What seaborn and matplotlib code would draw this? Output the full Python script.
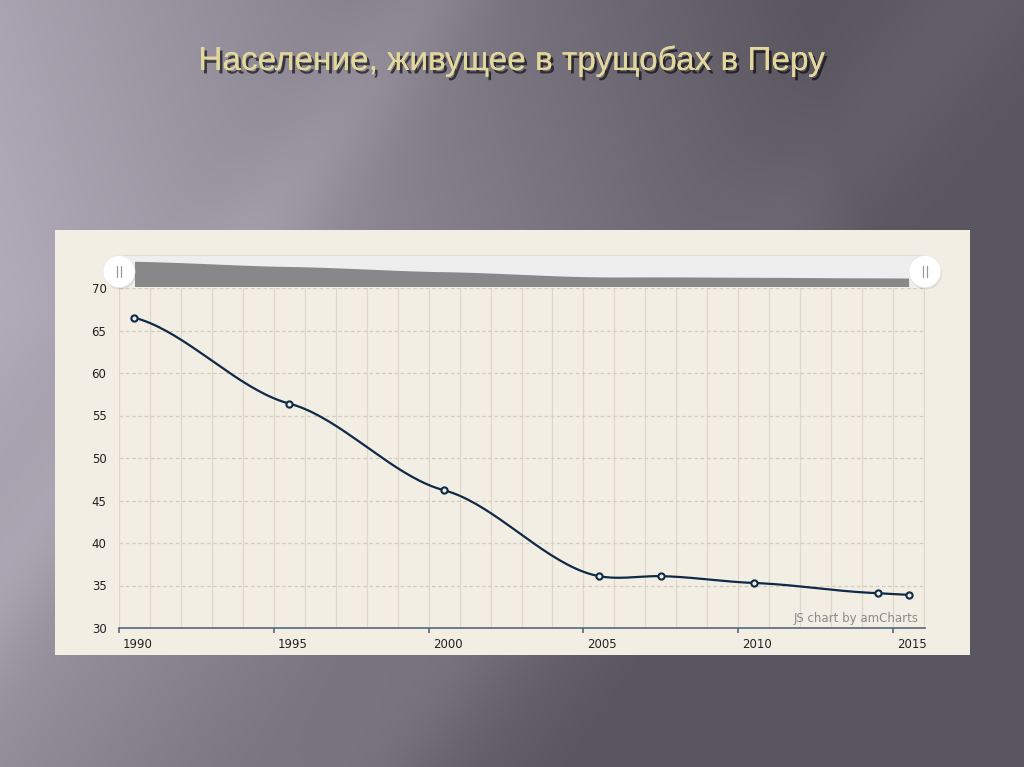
import numpy as np
import matplotlib
matplotlib.use("Agg")
import matplotlib.pyplot as plt
import seaborn as sns
from matplotlib import patches, patheffects, transforms, font_manager

# data (slum share, % of urban population)
years = [1990, 1995, 2000, 2005, 2007, 2010, 2014, 2015]
slum_share = [66.5, 56.4, 46.2, 36.1, 36.1, 35.3, 34.1, 33.9]
title = "Население, живущее в трущобах в Перу"
x_ticks = [1990, 1995, 2000, 2005, 2010, 2015]
y_ticks = [30, 35, 40, 45, 50, 55, 60, 65, 70]

W, H = 1024, 767
ink = "#0E2A47"
panel = "#F2EEE3"


def smooth(xs, ys, k=0.47, n=40):
    # hermite smoothing with softened tangents (close to amCharts smoothedLine look)
    xs = np.asarray(xs, float)
    ys = np.asarray(ys, float)
    m = np.zeros(len(xs))
    m[0] = k * (ys[1] - ys[0]) / (xs[1] - xs[0])
    m[-1] = k * (ys[-1] - ys[-2]) / (xs[-1] - xs[-2])
    m[1:-1] = k * (ys[2:] - ys[:-2]) / (xs[2:] - xs[:-2])
    t = np.linspace(0, 1, n)
    h00 = 2 * t ** 3 - 3 * t ** 2 + 1
    h10 = t ** 3 - 2 * t ** 2 + t
    h01 = -2 * t ** 3 + 3 * t ** 2
    h11 = t ** 3 - t ** 2
    px, py = [], []
    for i in range(len(xs) - 1):
        h = xs[i + 1] - xs[i]
        px.append(xs[i] + t * h)
        py.append(h00 * ys[i] + h10 * h * m[i] + h01 * ys[i + 1] + h11 * h * m[i + 1])
    return np.concatenate(px), np.concatenate(py)


sns.set_style("white")
plt.rcParams["font.family"] = ["DejaVu Sans"]

fig = plt.figure(figsize=(W / 100, H / 100), dpi=100)

# slide background
bg = fig.add_axes([0, 0, 1, 1], zorder=-3)
v, u = np.mgrid[0:H, 0:W]
u = u / W
v = v / H
f = 1 - 1.15 * u - np.where(v < 0.4, 0.25 * (0.4 - v), 0.6 * (v - 0.4))
f = np.clip(f, 0, 1)
streak = 0.045 * np.exp(-((u + v * 0.55 - 0.42) / 0.06) ** 2) \
    + 0.035 * np.exp(-((u + v * 0.6 - 0.95) / 0.08) ** 2)
light = np.array([178, 172, 186]) / 255
dark = np.array([90, 86, 96]) / 255
img = dark + (light - dark) * f[..., None] + streak[..., None]
bg.imshow(np.clip(img, 0, 1), aspect="auto", extent=[0, W, H, 0])
bg.set_axis_off()

# title
title_fam = ["Liberation Sans Narrow", "Liberation Sans", "DejaVu Sans"]
try:
    font_manager.findfont("Liberation Sans Narrow", fallback_to_default=False)
except Exception:
    title_fam = ["Liberation Sans", "DejaVu Sans"]
fig.text(0.5, 1 - 61 / H, title, ha="center", va="center", fontsize=24,
         color="#E2D79C", family=title_fam,
         path_effects=[patheffects.withSimplePatchShadow(offset=(2, -2.5), shadow_rgbFace="black", alpha=0.6),
                       patheffects.Normal()])

# chart panel
fig.add_artist(patches.Rectangle((55 / W, 1 - 655 / H), 915 / W, 425 / H,
                                 transform=fig.transFigure, facecolor=panel,
                                 edgecolor="none", zorder=-1))

x0, x1 = 1990, 2016.03
px = [y + 0.5 for y in years]  # amCharts puts each yearly point mid-year
cx, cy = smooth(px, slum_share)

# main plot
ax = fig.add_axes([119 / W, 1 - 628 / H, 806 / W, 340 / H])
ax.set_facecolor("none")
sns.lineplot(x=cx, y=cy, sort=False, color=ink, linewidth=1.6, ax=ax, zorder=3)
sns.scatterplot(x=px, y=slum_share, marker="o", s=20,
                facecolor=panel, edgecolor=ink, linewidth=1.5, ax=ax, zorder=4)
ax.set_xlim(x0, x1)
ax.set_ylim(30, 70)

for yr in range(1990, 2017):
    ax.axvline(yr, color="#DDD8CB", linewidth=0.9, zorder=1)
for val in y_ticks[1:]:
    ax.axhline(val, color="#D3CDBF", linewidth=0.9, linestyle=(0, (3, 2)), zorder=1)

for side in ["left", "right", "top"]:
    ax.spines[side].set_visible(False)
ax.spines["bottom"].set_color("#55687A")
ax.spines["bottom"].set_linewidth(1.2)

ax.set_xticks(x_ticks)
ax.set_xticklabels([str(x) for x in x_ticks])
ax.set_yticks(y_ticks)
ax.set_yticklabels([str(y) for y in y_ticks])
ax.tick_params(axis="x", direction="out", length=3.5, width=1.2, color="#55687A",
               pad=4, labelsize=8.5, labelcolor="#222222", bottom=True)
ax.tick_params(axis="y", length=0, pad=9, labelsize=8.5, labelcolor="#222222")
shift = transforms.ScaledTranslation(4 / 100, 0, fig.dpi_scale_trans)
for lab in ax.get_xticklabels():
    lab.set_ha("left")
    lab.set_transform(lab.get_transform() + shift)
ax.set_xlabel("")
ax.set_ylabel("")
ax.text(0.9926, 0.027, "JS chart by amCharts", transform=ax.transAxes,
        ha="right", va="center", fontsize=8.5, color="#8A8A8A")

# scrollbar with its mini graph
sb = fig.add_axes([119 / W, 1 - 286 / H, 806 / W, 31 / H])
sb.set_facecolor("#EEEEEE")
sb.fill_between(cx, cy, 0, color="#888888", linewidth=0)
sb.set_xlim(x0, x1)
sb.set_ylim(18.3, 78.8)
sb.set_xticks([])
sb.set_yticks([])
for side in ["left", "right", "bottom"]:
    sb.spines[side].set_visible(False)
sb.spines["top"].set_color("#E2DDDD")

# scrollbar handles
ov = fig.add_axes([0, 0, 1, 1], zorder=5)
ov.set_xlim(0, W)
ov.set_ylim(H, 0)
ov.set_axis_off()
ov.patch.set_alpha(0)
for hx in (119, 925):
    ov.add_patch(patches.Circle((hx + 1, 273.5), 16, facecolor="#000000", alpha=0.08, edgecolor="none"))
    ov.add_patch(patches.Circle((hx, 271.5), 16, facecolor="white", edgecolor="#E8E8E8", linewidth=0.6))
    for dx in (-2, 2):
        ov.plot([hx + dx, hx + dx], [266, 277], color="#9A9A9A", linewidth=0.9)

fig.savefig("out.png", dpi=100)
